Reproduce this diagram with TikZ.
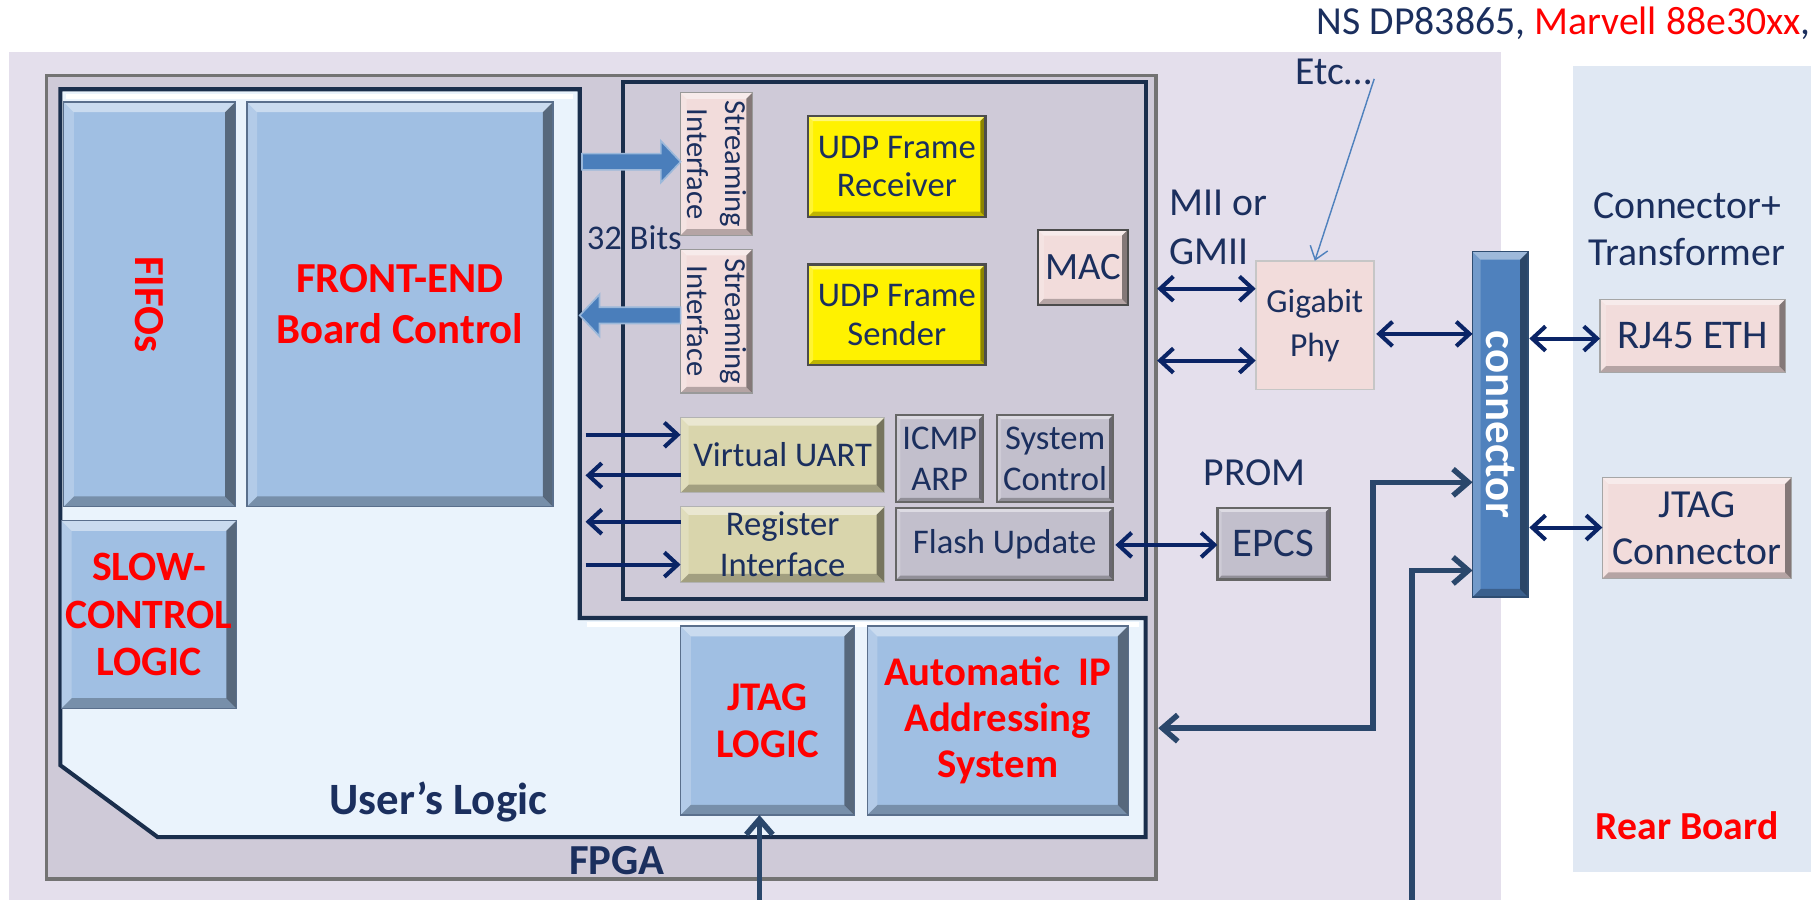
\documentclass[tikz,border=0pt]{standalone}
\usepackage{fontspec}
\setmainfont{Carlito}
\usetikzlibrary{arrows.meta,calc}
\definecolor{cLav}{HTML}{E4DFEC}
\definecolor{cRear}{HTML}{E0E8F3}
\definecolor{cFpga}{HTML}{CFCAD8}
\definecolor{cUser}{HTML}{EAF3FC}
\definecolor{cNavy}{HTML}{1B2F5E}
\definecolor{cLine}{HTML}{1A2E4C}
\definecolor{cArr}{HTML}{0A2466}
\definecolor{cSlate}{HTML}{2A476B}
\definecolor{cBlue}{HTML}{A0BFE3}
\definecolor{cBlueD}{HTML}{5A6F8C}
\definecolor{cPink}{HTML}{F2DCDB}
\definecolor{cKhaki}{HTML}{D9D5AC}
\definecolor{cGrey}{HTML}{C2BFCC}
\definecolor{cConn}{HTML}{4F81BD}
\definecolor{cFat}{HTML}{4A7EBB}
\newcommand\blk[7]{\node[#6,anchor=north west,minimum width={(#4-(#2))*0.02cm},minimum height={(#5-(#3))*0.02cm}] (#1) at (#2,#3) {#7};}
\tikzset{
  bev/.style={path picture={
    \fill[white,opacity=.45] (path picture bounding box.north west) -- (path picture bounding box.north east) -- ([shift={(-#1,-#1)}]path picture bounding box.north east) -- ([shift={(#1,-#1)}]path picture bounding box.north west) -- cycle;
    \fill[black,opacity=.45] (path picture bounding box.north east) -- (path picture bounding box.south east) -- ([shift={(-#1,#1)}]path picture bounding box.south east) -- ([shift={(-#1,-#1)}]path picture bounding box.north east) -- cycle;
    \fill[black,opacity=.25] (path picture bounding box.south west) -- (path picture bounding box.south east) -- ([shift={(-#1,#1)}]path picture bounding box.south east) -- ([shift={(#1,#1)}]path picture bounding box.south west) -- cycle;
    \fill[white,opacity=.2] (path picture bounding box.south west) -- (path picture bounding box.north west) -- ([shift={(#1,-#1)}]path picture bounding box.north west) -- ([shift={(#1,#1)}]path picture bounding box.south west) -- cycle;
  }},
  bev/.default=4pt,
  box/.style={draw, inner sep=0pt, outer sep=0pt, align=center},
  bluebox/.style={box, fill=cBlue, draw=cBlueD, line width=0.6pt, bev=5pt, text=red, font=\bfseries\fontsize{21}{25}\selectfont},
  pinkbox/.style={box, fill=cPink, draw=gray!80, line width=0.6pt, bev=3pt, text=cNavy},
  yelbox/.style={box, fill=yellow, draw=black!70, line width=1.2pt, bev=2.5pt, text=cNavy, font=\fontsize{17}{19}\selectfont},
  khbox/.style={box, fill=cKhaki, draw=gray!60, line width=0.5pt, bev=4pt, text=cNavy, font=\fontsize{17}{20}\selectfont},
  grbox/.style={box, fill=cGrey, draw=black!60, line width=1pt, bev=2pt, text=cNavy, font=\fontsize{17}{20}\selectfont},
  lbl/.style={inner sep=0pt, text=cNavy, align=center},
  nav/.style={draw=cArr, line width=2pt, >={Straight Barb[length=6.5pt,width=12pt,line width=2pt]}},
  slate/.style={draw=cSlate, line width=2.7pt, >={Straight Barb[length=7.5pt,width=13pt,line width=2.7pt]}},
  fatp/.style={fill=cFat, draw=cFat!55!white, line width=0.8pt},
}
\begin{document}
\begin{tikzpicture}[x=0.02cm,y=-0.02cm]
\useasboundingbox (0,0) rectangle (1568,776);
\fill[white] (0,0) rectangle (1568,776);
% background panels
\fill[cLav] (8,45) rectangle (1295,776);
\fill[cRear] (1357,57) rectangle (1562,752);
% FPGA frame
\blk{fpga}{40}{65}{997}{758}{box, fill=cFpga, draw=black!55, line width=1.8pt}{}
\node[lbl, font=\bfseries\fontsize{21}{25}\selectfont] (fpgat) at (532,742) {FPGA};
% User's logic
\filldraw[fill=cUser, draw=cLine, line width=2pt] (52,77) -- (500,77) -- (500,533) -- (988,533) -- (988,722) -- (136,722) -- (52,660) -- cycle;
\draw[white, line width=2.5pt] (57,83) -- (494,83);
\draw[white, line width=2.5pt] (506,539) -- (982,539);
\node[lbl, font=\bfseries\fontsize{22}{26}\selectfont] (ult) at (378,692) {User’s Logic};
% Ethernet inner box
\draw[cLine, line width=2pt] (537,71) rectangle (988,517);
% left blue blocks
\blk{fifo}{55}{88}{203}{437}{bluebox}{}
\node[text=red, font=\bfseries\fontsize{21}{25}\selectfont, rotate=-90] (fifot) at (fifo) {FIFOs};
\blk{fe}{213}{88}{477}{437}{bluebox}{FRONT-END\\Board Control}
\blk{slow}{53}{449}{204}{611}{bluebox, font=\bfseries\fontsize{20.5}{23.5}\selectfont}{SLOW-\\CONTROL\\LOGIC}
\blk{jtagl}{587}{540}{737}{703}{bluebox, font=\bfseries\fontsize{20}{23}\selectfont}{JTAG\\LOGIC}
\blk{aip}{748}{540}{973}{703}{bluebox, font=\bfseries\fontsize{20}{22.5}\selectfont}{Automatic~ IP\\Addressing\\System}
% streaming interfaces
\blk{str1}{587}{80}{649}{203}{pinkbox}{}
\node[text=cNavy, align=center, rotate=-90, font=\fontsize{15}{18.7}\selectfont] (str1t) at (str1) {Streaming\\Interface};
\blk{str2}{587}{215}{649}{339}{pinkbox}{}
\node[text=cNavy, align=center, rotate=-90, font=\fontsize{15}{18.7}\selectfont] (str2t) at (str2) {Streaming\\Interface};
\node[lbl, font=\fontsize{17}{19}\selectfont] (bits) at (547,205) {32 Bits};
% UDP blocks
\blk{udprx}{697}{100}{850}{187}{yelbox}{UDP Frame\\Receiver}
\blk{udptx}{697}{228}{850}{315}{yelbox}{UDP Frame\\Sender}
\blk{mac}{895}{198}{973}{263}{pinkbox, draw=black!70, line width=1pt, font=\fontsize{19}{22}\selectfont}{MAC}
% lower eth blocks
\blk{vuart}{587}{360}{763}{425}{khbox}{Virtual UART}
\blk{regif}{587}{437}{763}{502}{khbox}{Register\\Interface}
\blk{icmp}{773}{358}{848}{433}{grbox}{ICMP\\ARP}
\blk{sysc}{860}{358}{960}{433}{grbox}{System\\Control}
\blk{flash}{773}{438}{960}{500}{grbox}{Flash Update}
% outside FPGA
\node[lbl, anchor=west, align=left, font=\fontsize{19.5}{24}\selectfont] (mii) at (1008,196) {MII or\\GMII};
\blk{phy}{1083}{225}{1185}{336}{box, fill=cPink, draw=gray!45, line width=0.8pt, text=cNavy, font=\fontsize{16.5}{21.5}\selectfont}{Gigabit\\Phy}
\node[lbl, font=\fontsize{19.5}{22}\selectfont] (prom) at (1082,408) {PROM};
\blk{epcs}{1050}{438}{1147}{500}{grbox, font=\fontsize{20}{22}\selectfont, line width=1.2pt}{EPCS}
\blk{conn}{1270}{217}{1318}{515}{box, fill=cConn, draw=cConn!60!black, line width=0.8pt, bev=4pt}{}
\node[text=white, rotate=-90, font=\bfseries\fontsize{22}{26}\selectfont] (connt) at (conn) {connector};
\node[lbl, font=\fontsize{19.5}{23}\selectfont] (ct) at (1455,198) {Connector+\\Transformer};
\blk{rj}{1380}{258}{1540}{321}{pinkbox, draw=gray!70, font=\fontsize{20}{23}\selectfont}{RJ45 ETH}
\blk{jc}{1382}{412}{1545}{499}{pinkbox, draw=gray!70, font=\fontsize{19.5}{23}\selectfont}{JTAG\\Connector}
\node[inner sep=0pt, text=red, font=\bfseries\fontsize{19.5}{23}\selectfont] (rear) at (1455,712) {Rear Board};
\node[inner sep=0pt, anchor=east, text=cNavy, font=\fontsize{19.5}{23}\selectfont] (ns) at (1562,20) {NS DP83865, \textcolor{red}{Marvell 88e30xx},};
\node[inner sep=0pt, anchor=west, text=cNavy, font=\fontsize{19.5}{23}\selectfont] (etc) at (1117,62) {Etc…};
% connectors
\draw[cConn, line width=0.7pt, -{Straight Barb[length=6pt,width=9pt]}] (etc.east) ++(2,6) coordinate (etcp) (etcp) -- (phy.north);
\coordinate (fa1) at (502,139.5);
\filldraw[fatp] (fa1) ++(0,-7) -- ++(68,0) -- ++(0,-11) -- (fa1 -| str1.west) -- ++(-17,18) -- ++(0,-11) -- ++(-68,0) -- cycle;
\coordinate (fa2) at (500,272);
\filldraw[fatp] (fa2) -- ++(17,-18) -- ++(0,11) -- ($(fa2 -| str2.west)+(0,-7)$) -- ($(fa2 -| str2.west)+(0,7)$) -- ($(fa2)+(17,7)$) -- ($(fa2)+(17,18)$) -- cycle;
\coordinate (ua) at (505,375);
\coordinate (ub) at (505,410);
\coordinate (ra) at (505,450);
\coordinate (rb) at (505,487);
\draw[nav,->] (ua) -- (ua -| vuart.west);
\draw[nav,->] (ub -| vuart.west) -- (ub);
\draw[nav,->] (ra -| regif.west) -- (ra);
\draw[nav,->] (rb) -- (rb -| regif.west);
\coordinate (m1) at (998,249);
\coordinate (m2) at (998,311);
\draw[nav,<->] (m1) -- (m1 -| phy.west);
\draw[nav,<->] (m2) -- (m2 -| phy.west);
\coordinate (pc) at (1187,288);
\draw[nav,<->] (pc) -- (pc -| conn.west);
\coordinate (cr) at (1319,292);
\draw[nav,<->] (cr) -- (cr -| rj.west);
\coordinate (cj) at (1319,455);
\draw[nav,<->] (cj) -- (cj -| jc.west);
\coordinate (fe1) at (962,470);
\draw[nav,<->] (fe1) -- (fe1 -| epcs.west);
% bottom lines
\coordinate (ipb) at (1184,416);
\coordinate (ipa) at (999,628);
\draw[slate,<->] (ipa) -| (ipb) -- (ipb -| conn.west);
\coordinate (bot2) at (1218,776);
\coordinate (c2) at (1218,492);
\draw[slate,->] (bot2) -- (c2) -- (c2 -| conn.west);
\coordinate (bot1) at (655,776);
\draw[slate,->] (bot1) -- (bot1 |- jtagl.south);
\end{tikzpicture}
\end{document}
